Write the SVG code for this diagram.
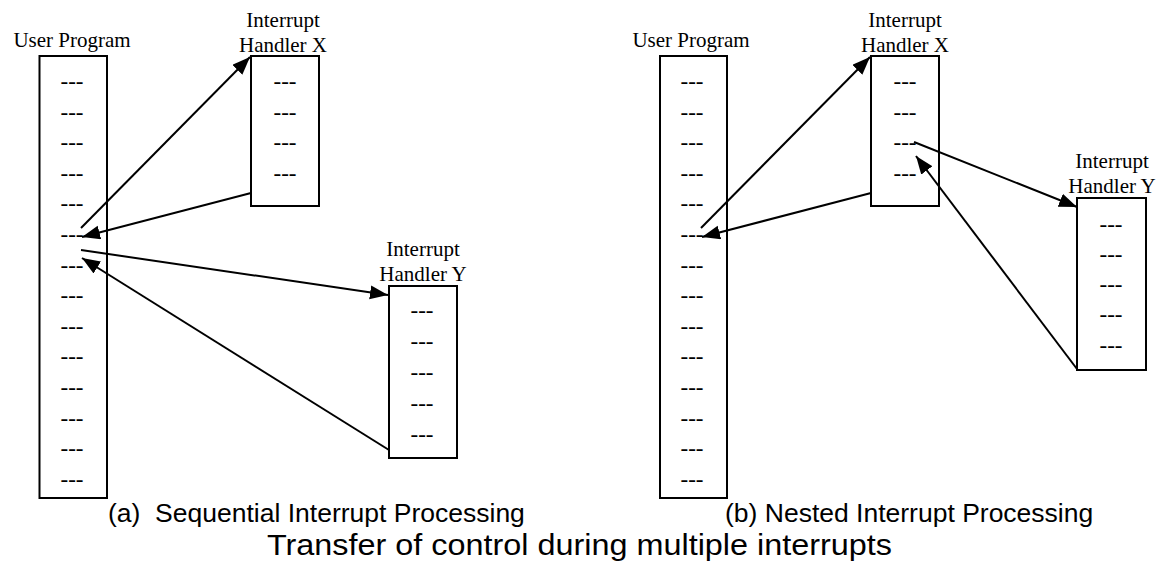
<svg xmlns="http://www.w3.org/2000/svg" width="1159" height="564" viewBox="0 0 1159 564">
  <style>
    .box { fill: #fff; stroke: #000; stroke-width: 2; }
    .lbl { font-family: "Liberation Serif", "Times New Roman", serif; font-size: 21px; fill: #000; text-anchor: middle; }
    .dash { font-family: "Liberation Serif", "Times New Roman", serif; font-size: 23px; fill: #000; text-anchor: middle; }
    .cap { font-family: "Liberation Sans", Arial, sans-serif; font-size: 26.5px; fill: #000; }
    .title { font-family: "Liberation Sans", Arial, sans-serif; font-size: 30px; fill: #000; }
    .flow { stroke: #000; stroke-width: 2; fill: none; marker-end: url(#head); }
  </style>
  <defs>
    <marker id="head" markerUnits="userSpaceOnUse" markerWidth="19" markerHeight="15" refX="18" refY="7" orient="auto">
      <path d="M0,0 L18,7 L0,14 z" fill="#000"/>
    </marker>
  </defs>
  <rect width="1159" height="564" fill="#fff"/>

  <!-- (a) sequential processing -->
  <g id="a-user-program">
    <text class="lbl" x="72" y="47">User Program</text>
    <rect class="box" x="39.5" y="56" width="67.5" height="442"/>
    <text class="dash" x="72" y="89">---</text>
    <text class="dash" x="72" y="119.6">---</text>
    <text class="dash" x="72" y="150.2">---</text>
    <text class="dash" x="72" y="180.8">---</text>
    <text class="dash" x="72" y="211.4">---</text>
    <text class="dash" x="72" y="242">---</text>
    <text class="dash" x="72" y="272.6">---</text>
    <text class="dash" x="72" y="303.2">---</text>
    <text class="dash" x="72" y="333.8">---</text>
    <text class="dash" x="72" y="364.4">---</text>
    <text class="dash" x="72" y="395">---</text>
    <text class="dash" x="72" y="425.6">---</text>
    <text class="dash" x="72" y="456.2">---</text>
    <text class="dash" x="72" y="486.8">---</text>
  </g>
  <g id="a-handler-x">
    <text class="lbl" x="283" y="27">Interrupt</text>
    <text class="lbl" x="283" y="52">Handler X</text>
    <rect class="box" x="251" y="56" width="68" height="150"/>
    <text class="dash" x="285" y="89">---</text>
    <text class="dash" x="285" y="119.6">---</text>
    <text class="dash" x="285" y="150.2">---</text>
    <text class="dash" x="285" y="180.8">---</text>
  </g>
  <g id="a-handler-y">
    <text class="lbl" x="423" y="256">Interrupt</text>
    <text class="lbl" x="423" y="281">Handler Y</text>
    <rect class="box" x="389" y="286" width="68" height="172"/>
    <text class="dash" x="422" y="318">---</text>
    <text class="dash" x="422" y="349">---</text>
    <text class="dash" x="422" y="380">---</text>
    <text class="dash" x="422" y="411">---</text>
    <text class="dash" x="422" y="442">---</text>
  </g>

  <!-- (b) nested processing -->
  <g id="b-user-program">
    <text class="lbl" x="691" y="47">User Program</text>
    <rect class="box" x="660" y="56" width="67" height="442"/>
    <text class="dash" x="692" y="89">---</text>
    <text class="dash" x="692" y="119.6">---</text>
    <text class="dash" x="692" y="150.2">---</text>
    <text class="dash" x="692" y="180.8">---</text>
    <text class="dash" x="692" y="211.4">---</text>
    <text class="dash" x="692" y="242">---</text>
    <text class="dash" x="692" y="272.6">---</text>
    <text class="dash" x="692" y="303.2">---</text>
    <text class="dash" x="692" y="333.8">---</text>
    <text class="dash" x="692" y="364.4">---</text>
    <text class="dash" x="692" y="395">---</text>
    <text class="dash" x="692" y="425.6">---</text>
    <text class="dash" x="692" y="456.2">---</text>
    <text class="dash" x="692" y="486.8">---</text>
  </g>
  <g id="b-handler-x">
    <text class="lbl" x="905" y="27">Interrupt</text>
    <text class="lbl" x="905" y="52">Handler X</text>
    <rect class="box" x="871" y="56" width="68" height="150"/>
    <text class="dash" x="905" y="89">---</text>
    <text class="dash" x="905" y="119.6">---</text>
    <text class="dash" x="905" y="150.2">---</text>
    <text class="dash" x="905" y="180.8">---</text>
  </g>
  <g id="b-handler-y">
    <text class="lbl" x="1112" y="168">Interrupt</text>
    <text class="lbl" x="1112" y="193">Handler Y</text>
    <rect class="box" x="1077" y="198" width="69" height="172"/>
    <text class="dash" x="1111" y="232">---</text>
    <text class="dash" x="1111" y="262">---</text>
    <text class="dash" x="1111" y="292">---</text>
    <text class="dash" x="1111" y="322">---</text>
    <text class="dash" x="1111" y="353">---</text>
  </g>

  <!-- control transfers -->
  <g id="connectors">
    <line class="flow" x1="81" y1="228" x2="250" y2="57"/>
    <line class="flow" x1="251" y1="193" x2="82" y2="237"/>
    <line class="flow" x1="81" y1="250" x2="388" y2="295"/>
    <line class="flow" x1="389" y1="450" x2="82" y2="258"/>
    <line class="flow" x1="701" y1="228" x2="870" y2="57"/>
    <line class="flow" x1="871" y1="193" x2="702" y2="237"/>
    <line class="flow" x1="914" y1="142" x2="1077" y2="207"/>
    <line class="flow" x1="1077" y1="369" x2="916" y2="156"/>
  </g>

  <g id="captions">
    <text class="cap" x="108" y="522" xml:space="preserve">(a)  Sequential Interrupt Processing</text>
    <text class="cap" x="725" y="522">(b) Nested Interrupt Processing</text>
    <text class="title" x="267" y="555" textLength="625" lengthAdjust="spacingAndGlyphs">Transfer of control during multiple interrupts</text>
  </g>
</svg>
